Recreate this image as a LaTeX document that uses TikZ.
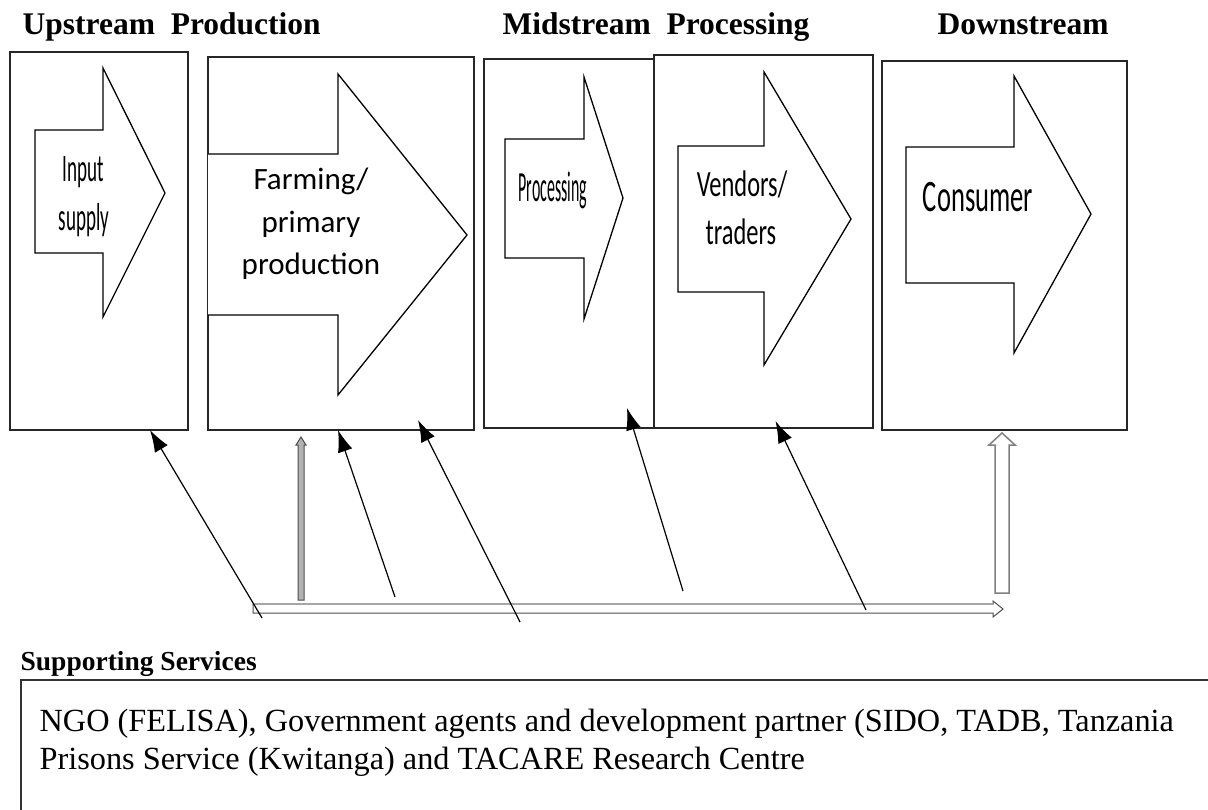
\documentclass[tikz,border=0pt]{standalone}
\usepackage{fontspec}
\setmainfont{Liberation Serif}
\newfontfamily\calibri{Carlito}
\usepackage{tikz}
\usetikzlibrary{arrows.meta}

\begin{document}
\begin{tikzpicture}[x=1pt,y=-1pt,line width=1.3pt]
  \tikzstyle{stage box} = [draw=black!85,line width=1.4pt,inner sep=0pt,outer sep=0pt]
  \tikzstyle{flow arrow} = [draw,line width=1.3pt,line join=miter,fill=white]
  \tikzstyle{heading} = [anchor=base west,inner sep=0pt,font=\fontsize{31.5}{31.5}\selectfont\bfseries]
  \tikzstyle{label} = [anchor=base,inner sep=0pt]
  \tikzstyle{service} = [anchor=base west,inner sep=0pt,font=\fontsize{32.3}{38}\selectfont]
  \tikzstyle{support edge} = [draw,line width=1.2pt,-{Latex[length=22pt,width=15pt]}]
  \useasboundingbox (0,0) rectangle (1208,810);

  % headings
  \node[heading] (up)   at (22,35)  {Upstream\ \ Production};
  \node[heading] (mid)  at (502,35) {Midstream\ \ Processing};
  \node[heading] (down) at (937,35) {Downstream};

  % stage boxes
  \node[stage box,minimum width=178pt,minimum height=378pt] (input)  at (99,241)     {};
  \node[stage box,minimum width=266pt,minimum height=373pt] (farm)   at (341,243.5)  {};
  \node[stage box,minimum width=170pt,minimum height=369pt] (proc)   at (569,243.5)  {};
  \node[stage box,minimum width=219pt,minimum height=373pt] (vendor) at (763.5,241.5) {};
  \node[stage box,minimum width=245pt,minimum height=369pt] (cons)   at (1004.5,245.5) {};

  % block arrows in the boxes
  \draw[flow arrow] (35,130) -- (103,130) -- (103,68) -- (165,193) -- (103,317) -- (103,253) -- (35,253) -- cycle;
  \draw[flow arrow] (208,154) -- (338,154) -- (338,74) -- (467,235) -- (338,395) -- (338,315) -- (208,315);
  \draw[flow arrow] (505,139) -- (584,139) -- (584,77) -- (623,198) -- (584,319) -- (584,258) -- (505,258) -- cycle;
  \draw[flow arrow] (678,146) -- (764,146) -- (764,72) -- (851,219) -- (764,365) -- (764,292) -- (678,292) -- cycle;
  \draw[flow arrow] (906,147) -- (1014,147) -- (1014,76) -- (1091,214) -- (1014,353) -- (1014,283) -- (906,283) -- cycle;

  \node[label,font=\calibri\fontsize{39}{39}\selectfont] (inputa) at (83,182) {\scalebox{0.49}[1]{Input}};
  \node[label,font=\calibri\fontsize{39}{39}\selectfont] (inputb) at (84,231) {\scalebox{0.49}[1]{supply}};
  \node[label,font=\calibri\fontsize{31}{31}\selectfont] (farma)  at (311,190) {Farming/};
  \node[label,font=\calibri\fontsize{31}{31}\selectfont] (farmb)  at (311,233) {primary};
  \node[label,font=\calibri\fontsize{31}{31}\selectfont] (farmc)  at (311,275) {production};
  \node[label,font=\calibri\fontsize{43}{43}\selectfont] (proca)  at (553,202) {\scalebox{0.37}[1]{Processing}};
  \node[label,font=\calibri\fontsize{37}{37}\selectfont] (venda)  at (742,197) {\scalebox{0.66}[1]{Vendors/}};
  \node[label,font=\calibri\fontsize{37}{37}\selectfont] (vendb)  at (741,245) {\scalebox{0.66}[1]{traders}};
  \node[label,font=\calibri\fontsize{45}{45}\selectfont] (consa)  at (978,212) {\scalebox{0.59}[1]{Consumer}};

  % supporting flows
  \draw[line width=1pt,draw=black!70,fill=white] (253,604) -- (993,604) -- (993,601) -- (1003,609) -- (993,617) -- (993,613) -- (253,613) -- cycle;
  \draw[line width=2pt,draw=gray!70] (255,604) -- (993,604);
  \draw[line width=1pt,draw=black!70,fill=gray!60] (298,600) -- (304,600) -- (304,445) -- (306,445) -- (301,437) -- (296,445) -- (298,445) -- cycle;
  \draw[line width=1.5pt,draw=gray,fill=white] (995,593) -- (1009,593) -- (1009,445) -- (1015,445) -- (1002,433) -- (989,445) -- (995,445) -- cycle;

  \coordinate (s1) at (262,618);
  \coordinate (s2) at (395,597);
  \coordinate (s3) at (520,622);
  \coordinate (s4) at (683,591);
  \coordinate (s5) at (866,610);

  \draw[support edge] (s1) -- ([xshift=51pt]input.south);
  \draw[support edge] (s2) -- ([xshift=-3pt]farm.south);
  \draw[support edge] (s3) -- ([xshift=77pt,yshift=10pt]farm.south);
  \draw[support edge] (s4) -- ([xshift=58pt,yshift=20pt]proc.south);
  \draw[support edge] (s5) -- ([xshift=12pt,yshift=7pt]vendor.south);

  % supporting services
  \node[anchor=base west,inner sep=0pt,font=\fontsize{27.5}{27.5}\selectfont\bfseries] (suptitle) at (20,670) {Supporting Services};
  \draw[line width=1.6pt,draw=black!80] (1208,680) -- (21,680) -- (21,810);
  \node[service] (svca) at (39,731) {NGO (FELISA), Government agents and development partner (SIDO, TADB, Tanzania};
  \node[service] (svcb) at (39,769) {Prisons Service (Kwitanga) and TACARE Research Centre};
\end{tikzpicture}
\end{document}
